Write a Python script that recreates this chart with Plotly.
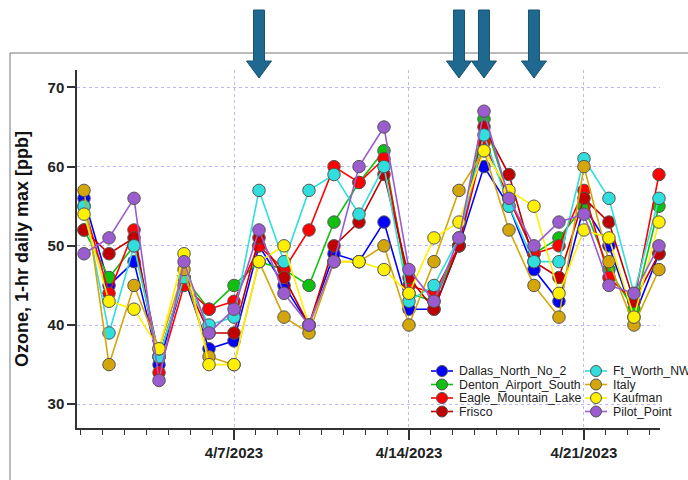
import plotly.graph_objects as go

# Daily max 1-hr ozone (ppb), 4/1/2023 - 4/24/2023
dates = [f"2023-04-{d:02d}" for d in range(1, 25)]

dallas_north_no_2 = [56, 45, 48, 35, 46, 37, 38, 50, 45, 40, 49, 48, 53, 42, 42, 50, 60, 55, 47, 43, 55, 50, 41, 49]
denton_airport_south = [52, 46, 50, 36, 46, 42, 45, 48, 47, 45, 53, 58, 62, 44, 43, 50, 66, 56, 49, 51, 55, 47, 42, 55]
eagle_mountain_lake = [55, 44, 52, 34, 45, 42, 43, 50, 47, 52, 60, 58, 61, 45, 44, 50, 63, 56, 49, 50, 57, 46, 43, 59]
frisco = [52, 49, 51, 36, 46, 39, 39, 51, 46, 40, 50, 53, 59, 46, 42, 50, 65, 59, 48, 46, 56, 53, 43, 49]
ft_worth_nw = [55, 39, 50, 36, 46, 40, 41, 57, 48, 57, 59, 54, 60, 43, 45, 51, 64, 55, 48, 48, 61, 56, 44, 56]
italy = [57, 35, 45, 37, 47, 36, 35, 48, 41, 39, 48, 48, 50, 40, 48, 57, 62, 52, 45, 41, 60, 48, 40, 47]
kaufman = [54, 43, 42, 37, 49, 35, 35, 48, 50, 40, 48, 48, 47, 44, 51, 53, 62, 57, 55, 44, 52, 51, 41, 53]
pilot_point = [49, 51, 56, 33, 48, 39, 42, 52, 44, 40, 48, 60, 65, 47, 43, 51, 67, 56, 50, 53, 54, 45, 44, 50]

site_names = ["Dallas_North_No_2", "Denton_Airport_South", "Eagle_Mountain_Lake", "Frisco",
              "Ft_Worth_NW", "Italy", "Kaufman", "Pilot_Point"]
site_values = [dallas_north_no_2, denton_airport_south, eagle_mountain_lake, frisco,
               ft_worth_nw, italy, kaufman, pilot_point]
site_colors = ["#0000ff", "#10c010", "#ff0000", "#c00000",
               "#30dede", "#d4a60a", "#ffef00", "#9a5ccf"]

# Dates flagged with arrows above the plot
arrow_dates = ["2023-04-08", "2023-04-16", "2023-04-17", "2023-04-19"]

FONT = "Liberation Sans, Arial, sans-serif"
W, H = 688, 480
ML, MR, MT, MB = 77, 28, 70, 52
PW, PH = W - ML - MR, H - MT - MB


def px_x(x):
    """Figure pixel column -> paper x."""
    return (x - ML) / PW


def px_y(y):
    """Figure pixel row -> paper y."""
    return (H - MB - y) / PH


fig = go.Figure()
for name, vals, col in zip(site_names, site_values, site_colors):
    fig.add_trace(go.Scatter(
        x=dates, y=vals, name=name, mode="lines+markers",
        line=dict(color=col, width=1.6),
        marker=dict(size=12.5, color=col, line=dict(color="#555555", width=1)),
        cliponaxis=False, showlegend=False,
    ))

grid_col = "rgba(160,160,250,0.75)"
fig.update_layout(
    width=W, height=H,
    margin=dict(l=ML, r=MR, t=MT, b=MB, autoexpand=False),
    paper_bgcolor="white", plot_bgcolor="white",
    font=dict(family=FONT, color="#222222"),
    xaxis=dict(
        type="date",
        range=["2023-03-31 17:15", "2023-04-24 01:00"],
        tick0="2023-04-07", dtick=7 * 86400000,
        tickformat="%-m/%-d/%Y",
        tickfont=dict(size=15, weight="bold", color="#222222"),
        ticks="outside", ticklen=10, tickwidth=1.5, tickcolor="#333333",
        showline=True, linecolor="#333333", linewidth=1.5,
        showgrid=True, gridcolor=grid_col, griddash="dot", gridwidth=1.2,
        minor=dict(tick0="2023-04-07", dtick=75600000, ticks="outside",
                   ticklen=5, tickwidth=1.2, tickcolor="#333333", showgrid=False),
        zeroline=False,
    ),
    yaxis=dict(
        range=[27, 72.2], dtick=10, tick0=0,
        tickfont=dict(size=15, weight="bold", color="#222222"),
        ticks="outside", ticklen=8, tickwidth=1.5, tickcolor="#333333",
        showline=True, linecolor="#333333", linewidth=1.5,
        showgrid=True, gridcolor=grid_col, griddash="dot", gridwidth=1.2,
        zeroline=False,
        title=dict(text="Ozone, 1-hr daily max [ppb]",
                   font=dict(size=18, weight="bold", color="#111111"), standoff=14),
    ),
    showlegend=False,
)

# Outer frame around the chart panel
fig.add_shape(type="rect", xref="paper", yref="paper",
              x0=px_x(10), x1=px_x(W + 40), y0=px_y(H + 40), y1=px_y(53),
              line=dict(color="#777777", width=1), layer="below")

# Down arrows marking the flagged days (pixel-sized, anchored on the date)
arrow_path = "M0,0 L-12.5,17 L-5.5,17 L-5.5,68 L5.5,68 L5.5,17 L12.5,17 Z"
for d in arrow_dates:
    fig.add_shape(type="path", xref="x", yref="paper",
                  xsizemode="pixel", ysizemode="pixel",
                  xanchor=d, yanchor=px_y(78), path=arrow_path,
                  fillcolor="#1f6890", line=dict(color="#18536f", width=1))

# Two-column legend: line sample, marker and label per site
legend_cols = [(442, 459), (596, 613)]
legend_rows = [371, 384.5, 398, 411.5]
for i, (name, col) in enumerate(zip(site_names, site_colors)):
    cx, tx = legend_cols[i // 4]
    ry = legend_rows[i % 4]
    fig.add_shape(type="line", xref="paper", yref="paper",
                  xsizemode="pixel", ysizemode="pixel",
                  xanchor=px_x(cx), yanchor=px_y(ry), x0=-11, x1=11, y0=0, y1=0,
                  line=dict(color=col, width=1.6))
    fig.add_shape(type="circle", xref="paper", yref="paper",
                  xsizemode="pixel", ysizemode="pixel",
                  xanchor=px_x(cx), yanchor=px_y(ry), x0=-5.5, x1=5.5, y0=-5.5, y1=5.5,
                  fillcolor=col, line=dict(color="#555555", width=1))
    fig.add_annotation(x=px_x(tx - 2), y=px_y(ry), xref="paper", yref="paper",
                       xanchor="left", yanchor="middle", showarrow=False,
                       text=name, font=dict(size=12.3, color="#222222"))

fig.write_html("out.html")
